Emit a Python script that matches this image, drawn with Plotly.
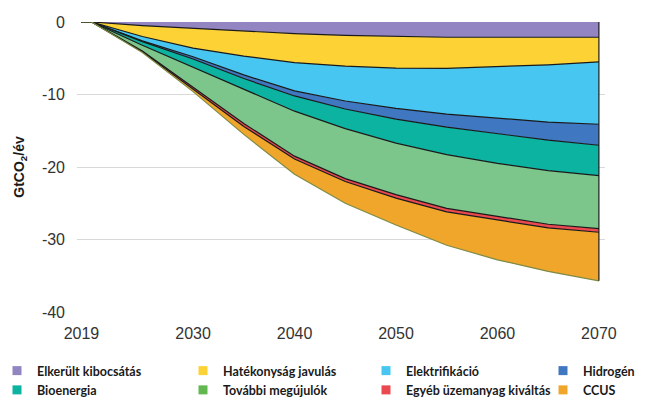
import plotly.graph_objects as go

years = [2019, 2020, 2025, 2030, 2035, 2040, 2045, 2050, 2055, 2060, 2065, 2070]

series_names = ["Elkerült kibocsátás", "Hatékonyság javulás", "Elektrifikáció", "Hidrogén",
                "Bioenergia", "További megújulók", "Egyéb üzemanyag kiváltás", "CCUS"]

elkerult = [0, 0, -0.5, -0.9, -1.3, -1.6, -1.85, -2.0, -2.1, -2.1, -2.1, -2.1]
hatekonysag = [0, 0, -1.5, -2.7, -3.4, -4.0, -4.25, -4.35, -4.3, -4.1, -3.8, -3.4]
elektrifikacio = [0, 0, -0.6, -1.2, -2.6, -3.9, -4.8, -5.55, -6.3, -7.1, -7.9, -8.6]
hidrogen = [0, 0, -0.1, -0.3, -0.5, -0.7, -1.1, -1.5, -1.8, -2.1, -2.5, -2.9]
bioenergia = [0, 0, -0.5, -1.1, -1.5, -2.1, -2.7, -3.3, -3.8, -4.1, -4.2, -4.2]
megujulok = [0, 0, -0.8, -2.8, -4.7, -6.2, -6.9, -7.1, -7.4, -7.3, -7.4, -7.3]
egyeb = [0, 0, -0.1, -0.3, -0.4, -0.4, -0.4, -0.5, -0.5, -0.5, -0.5, -0.5]
ccus = [0, 0, -0.1, -0.3, -1.1, -2.1, -3.0, -3.7, -4.6, -5.5, -6.0, -6.7]

y_ticks = [0, -10, -20, -30, -40]
y_ticktext = ["0", "-10", "-20", "-30", "-40"]
x_ticks = [2019, 2030, 2040, 2050, 2060, 2070]
x_ticktext = ["2019", "2030", "2040", "2050", "2060", "2070"]

values = [elkerult, hatekonysag, elektrifikacio, hidrogen, bioenergia, megujulok, egyeb, ccus]
fill_colors = ["#9384C2", "#FDD235", "#47C6F1", "#3F77C0", "#0DB3A1", "#7CC68B", "#EA4A4F", "#F0A62B"]
legend_colors = ["#9384C2", "#FDD235", "#47C6F1", "#3F77C0", "#0DB3A1", "#62B84F", "#EA4A4F", "#F0A62B"]
line_colors = ["#1a1a1a"] * 7 + ["#7d8a45"]

# legend column assignment (4 columns, 2 rows)
legend_ids = ["legend", "legend2", "legend3", "legend4", "legend", "legend2", "legend3", "legend4"]

fig = go.Figure()
for name, vals, fc, lc in zip(series_names, values, fill_colors, line_colors):
    fig.add_trace(go.Scatter(
        x=years, y=vals, name=name, mode="lines", stackgroup="one",
        fillcolor=fc, line=dict(color=lc, width=1.2), showlegend=False,
    ))

# right edge outline of the stacked area
total_last = sum(v[-1] for v in values)
fig.add_trace(go.Scatter(x=[years[-1], years[-1]], y=[0, total_last], mode="lines",
                         line=dict(color="#1a1a1a", width=1.2), showlegend=False, hoverinfo="skip"))

# legend entries (square markers)
for i, (name, lc, lid) in enumerate(zip(series_names, legend_colors, legend_ids)):
    fig.add_trace(go.Scatter(
        x=[None], y=[None], mode="markers", name=name, legendgroup=f"g{i}",
        marker=dict(symbol="square", size=9, color=lc), legend=lid,
    ))

font_ticks = dict(family="Liberation Sans, Arial, sans-serif", size=16, color="#333333")
leg_font = dict(family="Lato, Liberation Sans, sans-serif", size=12.5, color="#1a1a1a", weight="bold")

# page has an 8px body margin; plot area target in page pixels
body = 8
plot_l, plot_r, plot_t, plot_b = 77, 605, 22, 312
fig_w, fig_h = 648 - body, 400 - body
pw = plot_r - plot_l
ph = plot_b - plot_t


def px_x(px):
    return (px - plot_l) / pw


def px_y(py):
    return (plot_b - py) / ph


leg_common = dict(orientation="v", bgcolor="rgba(0,0,0,0)", font=leg_font,
                  xanchor="left", yanchor="top", y=px_y(356), tracegroupgap=4,
                  itemwidth=30, traceorder="normal", indentation=-10)
legend_left_px = [7, 193, 376, 553]
fig.update_layout(
    width=fig_w, height=fig_h,
    margin=dict(l=plot_l - body, r=fig_w + body - plot_r, t=plot_t - body,
                b=fig_h + body - plot_b, autoexpand=False),
    paper_bgcolor="white", plot_bgcolor="white",
    showlegend=True,
    legend=dict(leg_common, x=px_x(legend_left_px[0])),
    legend2=dict(leg_common, x=px_x(legend_left_px[1])),
    legend3=dict(leg_common, x=px_x(legend_left_px[2])),
    legend4=dict(leg_common, x=px_x(legend_left_px[3])),
    xaxis=dict(range=[2018.56, 2070.6], tickvals=x_ticks, ticktext=x_ticktext,
               showgrid=False, zeroline=False, showline=False, ticks="",
               tickfont=font_ticks, ticklabelstandoff=10, automargin=False),
    yaxis=dict(range=[-40, 0], tickvals=y_ticks, ticktext=y_ticktext,
               showgrid=True, gridcolor="#d9d9d9", gridwidth=1.3, zeroline=False,
               showline=False, ticks="", tickfont=font_ticks, ticklabelstandoff=11,
               automargin=False,
               title=dict(text="GtCO<sub>2</sub>/év", standoff=13,
                          font=dict(family="Liberation Sans, Arial, sans-serif", size=14,
                                    color="#1a1a1a", weight="bold"))),
)

fig.write_html("out.html")
